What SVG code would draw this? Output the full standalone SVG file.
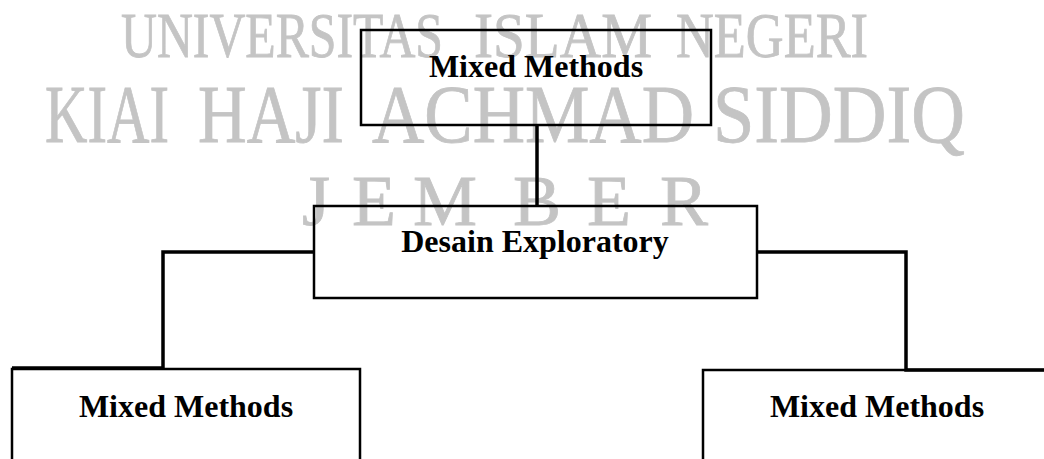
<svg xmlns="http://www.w3.org/2000/svg" width="1044" height="459" viewBox="0 0 1044 459">
<style>
.wm{font-family:"Liberation Serif","Times New Roman",serif;fill:#c4c4c4;stroke:#c4c4c4;stroke-width:0.8}
.box{fill:none;stroke:#000;stroke-width:2.5}
.lbl{font-family:"Liberation Serif","Times New Roman",serif;font-weight:bold;font-size:32px;fill:#000;text-anchor:middle}
.conn{fill:none;stroke:#000;stroke-width:3.5}
</style>
<rect width="1044" height="459" fill="#fff"/>
<g id="watermark">
<text class="wm" x="121" y="57" font-size="64" textLength="322" lengthAdjust="spacingAndGlyphs">UNIVERSITAS</text>
<text class="wm" x="474" y="57" font-size="64" textLength="178" lengthAdjust="spacingAndGlyphs">ISLAM</text>
<text class="wm" x="676" y="57" font-size="64" textLength="192" lengthAdjust="spacingAndGlyphs">NEGERI</text>
<text class="wm" x="45" y="142" font-size="82" textLength="124" lengthAdjust="spacingAndGlyphs">KIAI</text>
<text class="wm" x="198" y="142" font-size="82" textLength="146" lengthAdjust="spacingAndGlyphs">HAJI</text>
<text class="wm" x="372" y="142" font-size="82" textLength="322" lengthAdjust="spacingAndGlyphs">ACHMAD</text>
<text class="wm" x="713" y="142" font-size="82" textLength="252" lengthAdjust="spacingAndGlyphs">SIDDIQ</text>
<text class="wm" x="302 330 352 390 413 480 513 560 587 630 660" y="225" font-size="72">J E M B E R</text>
</g>
<g id="connectors">
<line class="conn" x1="537" y1="125" x2="537" y2="206"/>
<path class="conn" d="M314,252 H163 V368 H12"/>
<path class="conn" d="M757,252 H906 V370 H1044"/>
</g>
<g id="node-mixed-top">
<rect class="box" x="361" y="30" width="350" height="95"/>
<text class="lbl" x="536" y="77">Mixed Methods</text>
</g>
<g id="node-desain">
<rect class="box" x="314" y="206" width="443" height="92"/>
<text class="lbl" x="535" y="252">Desain Exploratory</text>
</g>
<g id="node-mixed-left">
<rect class="box" x="12" y="369" width="348" height="130"/>
<text class="lbl" x="186" y="417">Mixed Methods</text>
</g>
<g id="node-mixed-right">
<rect class="box" x="703" y="370" width="400" height="130"/>
<text class="lbl" x="877" y="417">Mixed Methods</text>
</g>
</svg>
